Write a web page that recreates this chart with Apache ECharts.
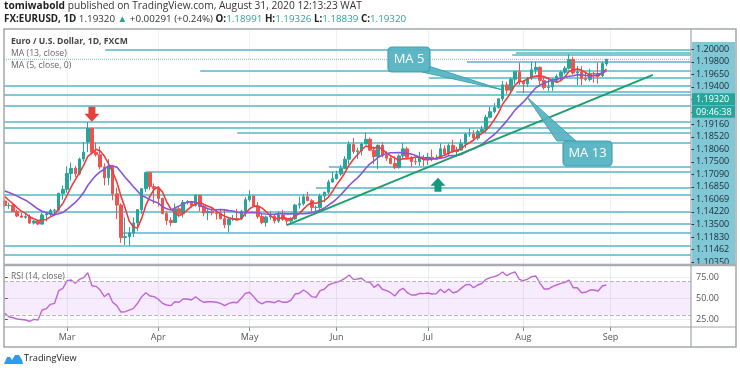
<!DOCTYPE html>
<html><head><meta charset="utf-8">
<script src="https://cdn.jsdelivr.net/npm/echarts@6/dist/echarts.min.js"></script>
<style>html,body{margin:0;padding:0;background:#fff}#c{width:740px;height:373px}</style>
</head><body><div id="c"></div>
<script>
// ---------------- data ----------------
// closes before the first visible bar (for the moving averages)
const priorCloses = [1.1054,1.1025,1.1018,1.1021,1.1010,1.1031,1.1094,1.1061,1.1043,1.0998,1.0980,1.0945];
// daily bars from Feb 10 2020 to Aug 31 2020
const opens = [
 1.0945,1.0913,1.0915,1.0872,1.0840,1.0831,1.0836,1.0791,1.0805,1.0784,1.0848,1.0854,1.0880,1.0882,1.0998,
 1.1026,1.1137,1.1173,1.1134,1.1237,1.1356,1.1450,1.1284,1.1267,1.1182,1.1107,1.1184,1.0995,1.0917,1.0691,1.0697,1.0722,1.0792,1.0885,1.1031,1.1142,1.1045,
 1.1031,1.0963,1.0857,1.0809,1.0795,1.0891,1.0857,1.0935,1.0939,1.0913,1.0985,1.0906,1.0862,1.0873,1.0862,1.0858,1.0822,1.0779,1.0819,1.0823,1.0822,1.0874,
 1.0954,1.0980,1.0909,1.0837,1.0795,1.0834,1.0840,1.0805,1.0848,1.0817,1.0805,1.0820,1.0917,1.0925,1.0974,1.0947,1.0900,1.0900,1.0979,1.1006,1.1077,
 1.1100,1.1133,1.1172,1.1236,1.1339,1.1290,1.1295,1.1342,1.1375,1.1299,1.1255,1.1333,1.1263,1.1243,1.1206,1.1177,1.1259,1.1308,1.1250,1.1220,1.1218,1.1244,
 1.1234,1.1250,1.1238,1.1245,1.1309,1.1273,1.1332,1.1289,1.1300,1.1343,1.1411,1.1411,1.1383,1.1427,1.1445,1.1528,1.1567,1.1596,1.1657,1.1754,1.1717,1.1793,1.1846,
 1.1778,1.1761,1.1800,1.1859,1.1876,1.1785,1.1735,1.1739,1.1785,1.1813,1.1841,1.1870,1.1931,1.1836,1.1843,1.1796,1.1792,1.1834,1.1833,1.1819,1.18991];
const highs = [
 1.0952,1.0934,1.0925,1.0885,1.0862,1.0851,1.0851,1.0813,1.0813,1.0863,1.0870,1.0890,1.0891,1.1002,1.1053,
 1.1186,1.1214,1.1189,1.1247,1.1356,1.1496,1.1455,1.1353,1.1325,1.1207,1.1237,1.1197,1.1037,1.0928,1.0831,1.0763,1.0829,1.0886,1.1034,1.1148,1.1147,1.1067,
 1.1047,1.0968,1.0876,1.0831,1.0927,1.0908,1.0952,1.0950,1.0946,1.0990,1.0988,1.0926,1.0889,1.0893,1.0890,1.0885,1.0890,1.0826,1.0847,1.0890,1.0883,1.0973,
 1.1019,1.0982,1.0937,1.0860,1.0843,1.0875,1.0850,1.0873,1.0883,1.0828,1.0832,1.0925,1.0975,1.0994,1.1009,1.0958,1.0913,1.0996,1.1010,1.1093,1.1147,
 1.1155,1.1195,1.1257,1.1361,1.1384,1.1315,1.1352,1.1422,1.1386,1.1323,1.1339,1.1352,1.1292,1.1257,1.1256,1.1270,1.1349,1.1322,1.1257,1.1249,1.1288,1.1265,
 1.1280,1.1303,1.1268,1.1346,1.1332,1.1345,1.1371,1.1322,1.1375,1.1418,1.1452,1.1437,1.1442,1.1469,1.1546,1.1601,1.1627,1.1660,1.1781,1.1776,1.1806,1.1848,1.1908,
 1.1787,1.1809,1.1916,1.1916,1.1883,1.1806,1.1806,1.1800,1.1827,1.1853,1.1884,1.1966,1.1950,1.1885,1.1884,1.1841,1.1866,1.1844,1.1910,1.1918,1.19326];
const lows = [
 1.0904,1.0890,1.0865,1.0833,1.0827,1.0821,1.0785,1.0781,1.0778,1.0779,1.0802,1.0840,1.0851,1.0874,1.0954,
 1.1002,1.1087,1.1111,1.1124,1.1219,1.1285,1.1270,1.1254,1.1165,1.1053,1.1054,1.0950,1.0818,1.0654,1.0639,1.0636,1.0695,1.0735,1.0855,1.1008,1.1022,1.0925,
 1.0905,1.0852,1.0778,1.0769,1.0795,1.0832,1.0831,1.0920,1.0899,1.0905,1.0873,1.0838,1.0811,1.0845,1.0817,1.0815,1.0756,1.0727,1.0805,1.0812,1.0811,1.0835,
 1.0940,1.0903,1.0821,1.0782,1.0766,1.0815,1.0788,1.0792,1.0807,1.0775,1.0781,1.0813,1.0892,1.0913,1.0944,1.0870,1.0872,1.0884,1.0936,1.0993,1.1073,
 1.1094,1.1120,1.1166,1.1202,1.1274,1.1239,1.1263,1.1341,1.1294,1.1201,1.1167,1.1248,1.1224,1.1201,1.1168,1.1171,1.1242,1.1235,1.1182,1.1197,1.1190,1.1188,
 1.1195,1.1222,1.1229,1.1239,1.1262,1.1261,1.1280,1.1257,1.1295,1.1313,1.1392,1.1372,1.1368,1.1416,1.1419,1.1521,1.1556,1.1589,1.1640,1.1691,1.1705,1.1761,1.1754,
 1.1696,1.1740,1.1787,1.1829,1.1755,1.1721,1.1710,1.1712,1.1772,1.1788,1.1827,1.1860,1.1824,1.1753,1.1752,1.1781,1.1778,1.1769,1.1762,1.1808,1.18839];
const closes = [
 1.0913,1.0915,1.0872,1.0840,1.0831,1.0836,1.0791,1.0805,1.0784,1.0848,1.0854,1.0880,1.0882,1.0998,1.1026,
 1.1137,1.1173,1.1134,1.1237,1.1285,1.1450,1.1284,1.1267,1.1182,1.1107,1.1184,1.0995,1.0917,1.0691,1.0697,1.0722,1.0792,1.0885,1.1031,1.1142,1.1045,1.1031,
 1.0963,1.0857,1.0809,1.0795,1.0891,1.0857,1.0935,1.0939,1.0913,1.0985,1.0906,1.0862,1.0873,1.0862,1.0858,1.0822,1.0779,1.0819,1.0823,1.0822,1.0874,1.0954,
 1.0980,1.0909,1.0837,1.0795,1.0834,1.0840,1.0805,1.0848,1.0817,1.0805,1.0820,1.0917,1.0925,1.0974,1.0947,1.0900,1.0900,1.0979,1.1006,1.1077,1.1100,
 1.1133,1.1172,1.1236,1.1339,1.1290,1.1295,1.1342,1.1375,1.1299,1.1255,1.1333,1.1263,1.1243,1.1206,1.1177,1.1259,1.1308,1.1250,1.1220,1.1218,1.1244,1.1234,
 1.1250,1.1238,1.1245,1.1309,1.1273,1.1332,1.1289,1.1300,1.1343,1.1411,1.1411,1.1383,1.1427,1.1445,1.1528,1.1567,1.1596,1.1657,1.1754,1.1717,1.1793,1.1846,1.1778,
 1.1761,1.1800,1.1859,1.1876,1.1785,1.1735,1.1739,1.1785,1.1813,1.1841,1.1870,1.1931,1.1836,1.1843,1.1796,1.1792,1.1834,1.1833,1.1819,1.1902,1.19320];
// RSI(14, close) per bar
const rsiValues = [
 31.8,27.7,26.5,25,24.4,23.8,22.3,24.6,23.8,35.7,37.3,42.5,43.7,58.7,61.5,
 70.6,71.4,67.5,72.2,74.2,80.1,64.6,63.9,59.5,51.6,55.6,44.9,40.9,33.3,33.7,35.7,37.7,43.7,51.6,56.3,52.4,51.6,
 48.5,43.7,41.7,40.9,45.6,44.9,48.8,48.8,47.6,51.6,47.6,44.9,45.6,45.6,44.9,43.7,40.9,43.7,44.9,44.4,49.6,55.6,
 56.8,51.6,45.6,42.9,45.6,45.6,44.4,46.8,44.9,44.9,47.6,54.8,55.6,59.5,56.3,51.6,50.8,58.7,60.4,65.5,67.5,
 68.7,70.6,73.5,77.4,72.2,72.6,73.5,69.4,68.7,62.7,66.3,60.4,58.7,56.3,52.4,58.7,61.5,56.3,53.6,53.6,
 55.6,55.2,56,54.8,55.2,60.4,56.3,60.7,56.3,57.5,61.5,65.5,66.3,62.3,65.5,67.5,72.2,74.2,75.4,77.4,81,76.6,79.4,81,
 72.2,70.6,72.6,75.4,76.2,67.5,60.7,60.7,63.5,65.5,67.5,68.7,71.4,62.3,62.3,56.3,56.8,59.5,59.5,58.3,64.3,65.5];
// horizontal support/resistance rays: price and the bar where each ray starts (null = from the left edge)
const levelPrices = [1.2000,1.1980,1.1965,1.1916,1.1852,1.1806,1.1750,1.1709,1.1685,1.16069,1.1500,1.1458,1.1422,1.1350,1.1183,1.11462,1.1035,1.0991,1.0868,1.0789,1.0724,1.0636,1.0573];
const levelStarts = [24.2,123.2,122.3,111.4,47.1,102.2,null,123.2,null,null,null,null,56,null,78.1,34,75,null,null,68.7,28.5,null,null];
// price-scale labels (stacked as in the original)
const axisLabelTexts = ['1.20000','1.19800','1.19650','1.19400','1.19320','09:46:38','1.19160','1.18520','1.18060','1.17500','1.17090','1.16850','1.16069','1.14220','1.13500','1.11830','1.11462','1.10350'];
const rsiTicks = [25,50,75];
const monthNames = ['Jan','Feb','Mar','Apr','May','Jun','Jul','Aug','Sep','Oct','Nov','Dec'];
const lastPrice = 1.19320;
// trend line (bar index, price)
const trendLine = [[68.0,1.0777],[156.2,1.1823]];
// annotations in (bar index, price)
const redArrowTip = [21.0,1.1497];
const greenArrowTip = [104.4,1.1107];
const ma5Box = [[92.36,1.20177],[102.48,1.18435]];
const ma5Wedge = [[120.07,1.17181],[102.48,1.18818],[100.55,1.18435]];
const ma13Box = [[134.54,1.13627],[146.35,1.11885]];
const ma13Wedge = [[125.86,1.16693],[133.09,1.13627],[137.67,1.13627]];

// ---------------- derived ----------------
const xMin = -0.19, xMax = 165.39;
const dates = [];
for (let d = new Date(Date.UTC(2020,1,10)); dates.length < 167; d.setUTCDate(d.getUTCDate()+1)) {
  const w = d.getUTCDay(); if (w !== 0 && w !== 6) dates.push(new Date(d));
}
const monthTicks = [];
for (let i = 1; i < dates.length; i++) if (dates[i].getUTCMonth() !== dates[i-1].getUTCMonth() && i <= xMax) monthTicks.push(i);
const allCloses = priorCloses.concat(closes);
function sma(n){ return closes.map((_, i) => { const k = i + priorCloses.length; let s = 0; for (let j = k-n+1; j <= k; j++) s += allCloses[j]; return [i, s/n]; }); }
const candles = closes.map((c, i) => [i, opens[i], c, lows[i], highs[i]]);
const slots = axisLabelTexts.map((_, i) => i);

const UP = '#26a69a', DOWN = '#ef5350', CYAN = '#80c8d6';
const chart = echarts.init(document.getElementById('c'));
chart.setOption({
  animation: false,
  grid: [{left:4, top:29, width:687, height:236}, {left:4, top:265, width:687, height:62}],
  xAxis: [
    {type:'value', gridIndex:0, min:xMin, max:xMax, axisLine:{show:false}, axisTick:{show:false, customValues:monthTicks}, axisLabel:{show:false, customValues:monthTicks}, splitLine:{show:true, lineStyle:{color:'#edf2f7', width:1}}},
    {type:'value', gridIndex:1, min:xMin, max:xMax, axisLine:{show:false},
     axisTick:{show:true, customValues:monthTicks, length:4, lineStyle:{color:'#888'}},
     axisLabel:{customValues:monthTicks, margin:6, fontSize:9, color:'#555', fontFamily:'Open Sans', formatter: v => monthNames[dates[Math.round(v)].getUTCMonth()]},
     splitLine:{show:true, lineStyle:{color:'#e6eef5', width:1}}}
  ],
  yAxis: [
    {type:'value', gridIndex:0, min:1.0499, max:1.2143, show:true, axisLine:{show:false}, axisTick:{show:false}, axisLabel:{show:false}, splitLine:{show:false}},
    {type:'value', gridIndex:0, position:'right', inverse:true, min:-1.623, max:17.242, axisLine:{show:false},
     axisTick:{show:true, customValues:slots, length:3, lineStyle:{color:'#333'}},
     splitLine:{show:false},
     axisLabel:{customValues:slots, margin:1, fontFamily:'Open Sans', fontSize:9, formatter: v => { const t = axisLabelTexts[Math.round(v)]; return (v === 4 || v === 5) ? '{g|' + t + '}' : '{c|' + t + '}'; },
       rich:{c:{color:'#1d2b33', fontSize:9, fontFamily:'Open Sans', padding:[0,0,0,4]}, g:{color:'#fff', fontSize:9, fontFamily:'Open Sans', backgroundColor:UP, width:36, padding:[2,3,1,4]}}}},
    {type:'value', gridIndex:1, position:'right', min:15.5, max:89.3, axisLine:{show:false},
     axisTick:{show:true, customValues:rsiTicks, length:3, lineStyle:{color:'#555'}},
     axisLabel:{customValues:rsiTicks, margin:5, fontSize:9, fontFamily:'Open Sans', color:'#555', formatter: v => v.toFixed(2)},
     splitLine:{show:true, lineStyle:{color:'#e9eef3'}}}
  ],
  series: [
    {type:'lines', coordinateSystem:'cartesian2d', xAxisIndex:0, yAxisIndex:0, z:1, silent:true,
     lineStyle:{color:CYAN, width:2, opacity:1},
     data: levelPrices.map((p, i) => ({coords:[[levelStarts[i] === null ? xMin : levelStarts[i], p],[xMax, p]]}))},
    {type:'line', xAxisIndex:0, yAxisIndex:0, z:1, showSymbol:false, silent:true, data:[[xMin,lastPrice],[xMax,lastPrice]], lineStyle:{color:'#7fb9c5', width:1, type:'dotted'}},
    {type:'candlestick', xAxisIndex:0, yAxisIndex:0, z:3, barWidth:3, data:candles, encode:{x:0, y:[1,2,3,4]},
     itemStyle:{color:UP, color0:DOWN, borderColor:UP, borderColor0:DOWN, borderWidth:1}},
    {type:'line', xAxisIndex:0, yAxisIndex:0, z:4, showSymbol:false, data:sma(5), lineStyle:{color:'#f23c3c', width:1.6}},
    {type:'line', xAxisIndex:0, yAxisIndex:0, z:4, showSymbol:false, data:sma(13), lineStyle:{color:'#8756d3', width:1.6}},
    {type:'line', xAxisIndex:0, yAxisIndex:0, z:5, showSymbol:false, data:trendLine, lineStyle:{color:'#1f9d6b', width:2}},
    {type:'line', xAxisIndex:1, yAxisIndex:2, z:4, showSymbol:false, data:rsiValues.map((v, i) => [i, v]), lineStyle:{color:'#c064d6', width:1.4},
     markArea:{silent:true, itemStyle:{color:'rgba(190,120,240,0.14)'}, data:[[{yAxis:30},{yAxis:70}]]},
     markLine:{silent:true, symbol:'none', label:{show:false}, lineStyle:{color:'#b9b3c2', type:'dashed', width:1}, data:[{yAxis:30},{yAxis:70}]}}
  ]
});

const px = p => chart.convertToPixel({gridIndex:0}, p);
function callout(box, wedge, text){
  const a = px(box[0]), b = px(box[1]);
  const w = wedge.map(px);
  return [
    {type:'polygon', z:20, shape:{points:w}, style:{fill:'#55b3c1', stroke:'#3f9fad', lineWidth:1, opacity:0.92}},
    {type:'rect', z:21, shape:{x:a[0], y:a[1], width:b[0]-a[0], height:b[1]-a[1], r:4}, style:{fill:'#55b3c1', stroke:'#3f9fad', lineWidth:1.2, opacity:0.95}},
    {type:'text', z:22, x:(a[0]+b[0])/2, y:(a[1]+b[1])/2, style:{text:text, fill:'#fff', font:'13px "Open Sans"', align:'center', verticalAlign:'middle'}}
  ];
}
const rt = px(redArrowTip), gt = px(greenArrowTip);
const graphics = [
  // header
  {type:'text', left:4, top:1, z:30, style:{rich:{b:{fill:'#222', font:'bold 10.2px "Open Sans"'}, n:{fill:'#333', font:'10.2px "Open Sans"'}}, text:'{b|tomiwabold}{n| published on TradingView.com, August 31, 2020 12:13:23 WAT}'}},
  {type:'text', left:4, top:14, z:30, style:{rich:{b:{fill:'#222', font:'bold 9.8px "Open Sans"'}, n:{fill:'#333', font:'9.8px "Open Sans"'}, g:{fill:UP, font:'9.8px "Open Sans"'}},
    text:'{b|FX:EURUSD, 1D}{n| 1.19320 }{g|▲}{n| +0.00291 (+0.24%) }{b|O:}{g|1.18991 }{b|H:}{g|1.19326 }{b|L:}{g|1.18839 }{b|C:}{g|1.19320}'}},
  // panel legends
  {type:'text', left:11, top:37, z:30, style:{text:'Euro / U.S. Dollar, 1D, FXCM', fill:'#444', font:'bold 8.6px "Open Sans"'}},
  {type:'text', left:11, top:49, z:30, style:{text:'MA (13, close)', fill:'#666', font:'8.7px "Open Sans"'}},
  {type:'text', left:11, top:61, z:30, style:{text:'MA (5, close, 0)', fill:'#666', font:'8.7px "Open Sans"'}},
  {type:'text', left:11, top:272, z:30, style:{text:'RSI (14, close)', fill:'#666', font:'8.5px "Open Sans"'}},
  // price-scale background
  {type:'rect', z:-1, shape:{x:692, y:42, width:43, height:223}, style:{fill:CYAN}},
  {type:'rect', z:40, shape:{x:692, y:265, width:44, height:6}, style:{fill:'#fff'}},
  // frame
  {type:'rect', z:41, shape:{x:4, y:29, width:732, height:318}, style:{fill:'none', stroke:'#a3a6ad', lineWidth:1.5}},
  {type:'line', z:41, shape:{x1:4, y1:265, x2:736, y2:265}, style:{stroke:'#a9acb3', lineWidth:2.5}},
  {type:'line', z:41, shape:{x1:4, y1:327, x2:736, y2:327}, style:{stroke:'#a3a6ad', lineWidth:1.2}},
  {type:'line', z:41, shape:{x1:691, y1:29, x2:691, y2:347}, style:{stroke:'#a3a6ad', lineWidth:1.2}},
  // arrows
  {type:'polygon', z:25, shape:{points:[[rt[0]-3.5,rt[1]-15],[rt[0]+3.5,rt[1]-15],[rt[0]+3.5,rt[1]-8],[rt[0]+7.5,rt[1]-8],[rt[0],rt[1]],[rt[0]-7.5,rt[1]-8],[rt[0]-3.5,rt[1]-8]]}, style:{fill:'#e8413c'}},
  {type:'polygon', z:25, shape:{points:[[gt[0],gt[1]],[gt[0]+7.5,gt[1]+8],[gt[0]+3.5,gt[1]+8],[gt[0]+3.5,gt[1]+14],[gt[0]-3.5,gt[1]+14],[gt[0]-3.5,gt[1]+8],[gt[0]-7.5,gt[1]+8]]}, style:{fill:'#14997f'}},
  // TradingView logo
  {type:'polygon', z:30, shape:{points:[[4,364],[7,357],[10,357],[12,360],[15,355],[19,355],[22,360],[23,364]]}, style:{fill:'#2d9bf0'}},
  {type:'text', left:24, top:354, z:30, style:{text:'TradingView', fill:'#222', font:'9.2px "Open Sans"'}}
].concat(callout(ma5Box, ma5Wedge, 'MA 5'), callout(ma13Box, ma13Wedge, 'MA 13'));
chart.setOption({graphic: graphics});
</script></body></html>
